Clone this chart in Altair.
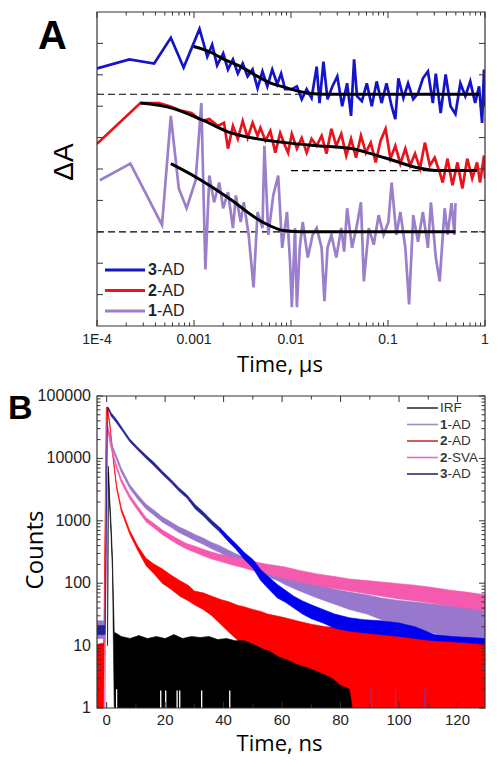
import altair as alt
import pandas as pd

FONT = "Liberation Sans"
TFONT = "Open Sans"

# ======================= Panel A data (time in microseconds) =======================
a3_t = [1.0e-4, 2.16e-4, 3.88e-4, 5.77e-4, 7.82e-4, 1.14e-3, 1.37e-3, 1.54e-3, 1.73e-3, 2.0e-3,
        2.24e-3, 2.52e-3, 2.83e-3, 3.18e-3, 3.57e-3, 4.02e-3, 4.52e-3, 5.08e-3, 5.70e-3, 6.41e-3,
        7.21e-3, 7.91e-3, 8.69e-3, 1.02e-2, 1.15e-2, 1.29e-2, 1.45e-2, 1.63e-2, 1.84e-2, 1.97e-2,
        2.16e-2, 2.38e-2, 2.67e-2, 3.0e-2, 3.37e-2, 3.79e-2, 4.16e-2, 4.47e-2, 4.79e-2, 5.38e-2,
        6.05e-2, 6.80e-2, 7.64e-2, 8.59e-2, 9.66e-2, 0.109, 0.119, 0.128, 0.144, 0.161,
        0.182, 0.204, 0.229, 0.258, 0.290, 0.311, 0.349, 0.393, 0.441, 0.496,
        0.557, 0.627, 0.705, 0.791, 0.869, 0.933, 0.977, 1.0]
a3_y = [8.20, 8.49, 8.36, 9.18, 8.23, 9.46, 8.58, 8.96, 8.30, 8.68,
        8.17, 8.49, 8.04, 8.36, 7.95, 8.17, 7.57, 8.11, 7.63, 8.17,
        7.70, 8.04, 7.54, 7.54, 7.63, 7.22, 7.54, 7.26, 8.26, 7.10,
        8.42, 7.22, 7.63, 7.95, 7.00, 7.73, 6.69, 8.49, 7.32, 7.16,
        7.73, 7.00, 7.79, 7.10, 7.73, 7.00, 6.59, 7.89, 7.26, 7.73,
        7.22, 7.41, 7.89, 8.11, 7.10, 8.04, 6.78, 8.01, 7.00, 6.75,
        7.73, 7.32, 7.79, 7.10, 7.63, 6.47, 8.17, 7.00]

a2_t = [1.0e-4, 2.80e-4, 4.36e-4, 5.64e-4, 7.47e-4, 9.44e-4, 1.19e-3, 1.44e-3, 1.77e-3, 2.04e-3,
        2.24e-3, 2.52e-3, 2.83e-3, 3.18e-3, 3.57e-3, 4.02e-3, 4.52e-3, 4.84e-3, 5.45e-3, 6.12e-3,
        6.89e-3, 7.73e-3, 8.69e-3, 9.33e-3, 1.02e-2, 1.15e-2, 1.29e-2, 1.45e-2, 1.63e-2, 1.84e-2,
        2.07e-2, 2.32e-2, 2.61e-2, 2.93e-2, 3.30e-2, 3.71e-2, 4.16e-2, 4.68e-2, 5.26e-2, 5.92e-2,
        6.64e-2, 7.47e-2, 8.39e-2, 9.44e-2, 0.106, 0.119, 0.134, 0.151, 0.169, 0.190,
        0.214, 0.240, 0.270, 0.303, 0.341, 0.366, 0.411, 0.462, 0.520, 0.584,
        0.656, 0.738, 0.829, 0.889, 0.977, 1.0]
a2_y = [5.80, 7.10, 7.10, 7.00, 6.85, 6.78, 6.53, 6.59, 6.37, 6.47,
        5.65, 6.37, 5.96, 6.53, 5.99, 6.47, 6.06, 6.31, 5.90, 6.21,
        5.52, 6.15, 5.74, 5.52, 6.12, 5.65, 5.99, 5.52, 5.96, 5.74,
        6.06, 5.49, 6.28, 5.74, 6.12, 5.43, 5.96, 5.36, 6.06, 5.52,
        5.84, 5.21, 5.90, 6.28, 5.33, 5.74, 5.17, 5.65, 5.11, 5.49,
        5.02, 5.84, 5.11, 5.36, 4.89, 4.57, 5.33, 4.48, 5.21, 4.38,
        5.33, 4.70, 5.21, 4.57, 5.43, 4.70]

a1_t = [1.07e-4, 2.21e-4, 4.68e-4, 5.77e-4, 6.97e-4, 8.39e-4, 1.04e-3, 1.19e-3, 1.31e-3, 1.44e-3,
        1.61e-3, 1.82e-3, 2.0e-3, 2.24e-3, 2.52e-3, 2.70e-3, 3.03e-3, 3.26e-3, 3.66e-3, 4.11e-3,
        4.52e-3, 5.08e-3, 5.32e-3, 5.84e-3, 6.56e-3, 7.38e-3, 8.11e-3, 9.10e-3, 9.77e-3, 1.02e-2,
        1.10e-2, 1.15e-2, 1.23e-2, 1.32e-2, 1.49e-2, 1.67e-2, 1.84e-2, 2.07e-2, 2.21e-2, 2.38e-2,
        2.61e-2, 2.93e-2, 3.30e-2, 3.53e-2, 3.79e-2, 4.26e-2, 4.79e-2, 5.26e-2, 5.64e-2, 6.34e-2,
        7.13e-2, 8.01e-2, 9.0e-2, 0.101, 0.109, 0.122, 0.134, 0.151, 0.165, 0.182,
        0.204, 0.229, 0.258, 0.277, 0.311, 0.341, 0.384, 0.411, 0.452, 0.484, 0.496]
a1_y = [4.64, 5.17, 3.22, 6.69, 4.38, 3.75, 4.64, 7.10, 1.80, 4.79,
        3.94, 4.57, 3.75, 4.26, 3.12, 4.16, 3.31, 3.94, 2.90, 1.23,
        3.63, 3.12, 5.74, 2.90, 4.16, 4.79, 2.49, 3.63, 2.05, 0.60,
        3.12, 0.60, 2.49, 3.31, 2.18, 2.90, 3.12, 2.49, 0.79, 2.49,
        2.90, 2.18, 3.12, 2.37, 3.75, 2.49, 3.22, 3.94, 1.42, 3.12,
        2.59, 3.53, 2.90, 3.31, 4.57, 2.90, 3.63, 2.49, 0.69, 3.53,
        2.68, 3.63, 2.49, 3.94, 2.18, 1.42, 3.75, 2.90, 3.91, 2.90, 3.91]

# fitted curves
f3_t = [9.9e-4, 1.51e-3, 2.04e-3, 3.03e-3, 4.52e-3, 6.27e-3, 8.69e-3, 1.18e-2, 1.56e-2, 2.21e-2, 0.869]
f3_y = [8.90, 8.71, 8.49, 8.26, 7.95, 7.73, 7.60, 7.48, 7.41, 7.38, 7.38]
f2_t = [2.80e-4, 5.91e-4, 1.28e-3, 2.40e-3, 4.52e-3, 8.69e-3, 1.88e-2, 4.16e-2, 6.64e-2, 0.114, 0.195, 0.341, 0.829]
f2_y = [7.10, 6.94, 6.53, 6.15, 5.96, 5.84, 5.74, 5.65, 5.49, 5.27, 5.05, 4.95, 4.95]
f1_t = [5.77e-4, 1.06e-3, 2.29e-3, 5.08e-3, 8.69e-3, 1.29e-2, 0.496]
f1_y = [5.17, 4.73, 4.07, 3.31, 3.03, 3.00, 3.00]

# dashed baselines
a_base_x1 = [1e-4, 0.01, 1e-4]
a_base_x2 = [1.0, 0.83, 1.0]
a_base_y = [7.38, 4.95, 3.00]

a_xlab_v = [1e-4, 1e-3, 1e-2, 1e-1, 1]
a_xlab_s = ["1E-4", "0.001", "0.01", "0.1", "1"]
a_leg_num = ["3", "2", "1"]

# ======================= Panel B data (time in ns, counts) =======================
r_t = [-3.3, -1.0, -0.1, 0.3, 1.1, 2.2, 3.4, 5.0, 7.9, 10.7, 13.5, 16, 19, 22, 25, 28, 30, 33, 36, 39, 42,
       45, 47, 50, 53, 55, 58, 61, 65, 70, 75, 80, 85, 90, 95, 100, 105, 110, 115, 120, 125, 129.4]
r_lo = [1, 1, 50000, 58000, 32000, 9800, 3300, 1420, 610, 330, 190, 145, 100, 80, 62, 52, 45, 38, 30, 22, 16,
        12, 9, 7.5, 5.5, 4, 2.5, 1, 1, 1, 1, 1, 1, 1, 1, 1, 1, 1, 1, 1, 1, 1]
r_hi = [10.5, 11, 66000, 66000, 37000, 11000, 3700, 1600, 700, 390, 250, 205, 170, 135, 110, 92, 75, 70, 62, 55, 50,
        44, 42, 38, 35, 32, 30, 28, 25, 22, 20, 19.5, 18.5, 17.5, 17, 16, 14.5, 13.5, 12.5, 11.5, 11, 10.5]

p_t = [-3.3, -0.6, 0.0, 0.3, 1.2, 2.2, 3.4, 5.0, 7.9, 10.7, 13.5, 16, 19.1, 22, 24.7, 27.5, 30.3, 33, 35.9, 38.7,
       41.5, 44, 47.1, 50, 52.7, 55.5, 58.4, 61, 66, 72, 78, 83, 89, 94, 100, 105.5, 111, 117, 123, 129.4]
p_lo = [13, 13, 24000, 29000, 20000, 13000, 9500, 6000, 3300, 2200, 1550, 1250, 950, 790, 650, 560, 480, 420, 355, 310,
        260, 225, 190, 165, 145, 125, 110, 95, 75, 58, 46, 38, 32, 26, 22, 19, 16, 14, 13, 12]
p_hi = [25, 25, 33000, 34000, 23000, 15000, 11000, 7000, 3800, 2600, 1850, 1500, 1150, 960, 800, 700, 600, 530, 450, 400,
        340, 300, 255, 225, 200, 180, 160, 140, 118, 95, 80, 72, 65, 58, 53, 50, 47, 44, 42, 40]

k_t = [-0.6, 0.0, 0.4, 1.2, 2.2, 3.4, 5.0, 7.9, 10.7, 13.5, 16, 19.1, 22, 24.7, 27.5, 30.3, 33, 35.9, 38.7, 41.5,
       44, 47.1, 50, 52.7, 55.5, 58.4, 61, 66, 72, 78, 83, 89, 94, 100, 105.5, 111, 117, 123, 129.4]
k_lo = [1, 26000, 27000, 17000, 10500, 6800, 4100, 2250, 1450, 960, 780, 600, 490, 410, 350, 310, 275, 245, 225, 205,
        190, 175, 160, 150, 140, 128, 118, 105, 92, 82, 75, 68, 62, 56, 52, 48, 44, 40, 36]
k_hi = [1.2, 31000, 31000, 20000, 12000, 7800, 4700, 2600, 1700, 1120, 920, 710, 590, 500, 430, 390, 350, 315, 290, 270,
        255, 240, 225, 210, 200, 190, 182, 160, 141, 128, 117, 110, 105, 98, 93, 86, 78, 72, 65]

b_t = [-3.3, -0.5, 0.3, 0.6, 1.5, 3.4, 5.5, 7.9, 10.7, 13.5, 16, 19.1, 22, 24.7, 27.5, 30.3, 33, 35.9, 38.7, 41.5,
       44, 47.1, 50, 52.7, 55.5, 58.4, 61, 64, 67, 70, 74, 78, 83, 88, 94, 100, 105.5, 108, 112, 118, 124, 129.4]
b_lo = [15, 15, 55000, 60000, 48000, 37000, 27000, 18500, 13500, 10000, 7800, 5500, 4100, 3000, 2300, 1550, 1200, 870, 660, 470,
        360, 240, 175, 110, 80, 58, 50, 40, 32, 27, 23, 19, 17, 16, 15, 14, 13, 12.5, 12, 11.5, 11, 10.5]
b_hi = [21, 21, 66000, 66000, 54000, 42000, 30000, 20500, 15000, 11200, 8800, 6200, 4600, 3400, 2600, 1800, 1400, 1020, 780, 570,
        440, 310, 240, 165, 125, 95, 78, 62, 52, 45, 38, 32, 28, 26, 25, 23, 20, 18, 15, 14, 13.5, 13]

irf_t = [0.3, 0.6, 1.0, 1.5, 2.0, 2.3, 2.6, 3.0, 5, 8, 11, 14, 17, 20, 23, 26, 29, 32, 35, 38, 41, 44, 47,
         50, 53, 56, 59, 62, 65, 68, 71, 74, 77, 80, 83, 84]
irf_lo = [10, 6000, 1800, 600, 150, 12, 1, 1, 1, 1, 1, 1, 1, 1, 1, 1, 1, 1, 1, 1, 1, 1, 1,
          1, 1, 1, 1, 1, 1, 1, 1, 1, 1, 1, 1, 1]
irf_hi = [14, 7500, 2500, 900, 250, 60, 16, 16, 14, 13, 14.5, 13, 14, 13, 15, 13, 14, 13.5, 14, 12.5, 13, 12, 12,
          10.5, 9, 8, 6.5, 5.8, 5, 4.5, 4, 3.5, 3, 2.3, 2, 1]

gap_t = [3.4, 18.5, 20.2, 24.1, 25.0, 32.5, 42.1]       # empty (zero-count) channels in IRF
gap_top = [2.0, 1.9, 1.9, 1.9, 1.9, 1.9, 1.9]
spike_t = [90.5, 98.8, 108.9]                            # low-count channels of 3-AD
spike_top = [2.2, 2.0, 2.0]

b_ylab_v = [1, 10, 100, 1000, 10000, 100000]
b_ylab_s = ["1", "10", "100", "1000", "10000", "100000"]
b_xlab_v = [0, 20, 40, 60, 80, 100, 120]
b_xlab_s = ["0", "20", "40", "60", "80", "100", "120"]
b_leg_num = ["", "1", "2", "2", "3"]
b_leg_rest = ["IRF", "-AD", "-AD", "-SVA", "-AD"]

# ======================= layout (pixels inside one shared plot area) =======================
W = 388
A_TOP, A_BOT = 0, 314
B_TOP, B_BOT = 384, 696
xa = alt.Scale(type="log", domain=[1e-4, 1], range=[0, W])
ya = alt.Scale(domain=[0, 10], range=[A_BOT, A_TOP])
xb = alt.Scale(domain=[-3.3, 129.4], range=[0, W])
yb = alt.Scale(type="log", domain=[1, 100000], range=[B_BOT, B_TOP])
ONE = pd.DataFrame({"k": [0]})
TICK = "#333333"


def text(t, x, y, size, font=FONT, weight="normal", align="left", baseline="middle", angle=0, color="#111111"):
    kw = dict(text=t, fontSize=size, font=font, fontWeight=weight, align=align, baseline=baseline, color=color)
    if angle:
        kw["angle"] = angle
    return alt.Chart(ONE).mark_text(**kw).encode(x=alt.value(x), y=alt.value(y))


def seg(x1, x2, y, color, w):
    return alt.Chart(ONE).mark_rule(color=color, strokeWidth=w).encode(
        x=alt.value(x1), x2=alt.value(x2), y=alt.value(y))


def frame(top, bot):
    return alt.Chart(ONE).mark_rect(fillOpacity=0, stroke="#333333", strokeWidth=1.2).encode(
        x=alt.value(0), x2=alt.value(W), y=alt.value(top), y2=alt.value(bot))


def xticks(vals, scale, top, bot, L):
    df = pd.DataFrame({"v": vals})
    base = alt.Chart(df).mark_rule(color=TICK, strokeWidth=1)
    enc = alt.X("v:Q", scale=scale, axis=None)
    return [base.encode(x=enc, y=alt.value(top), y2=alt.value(top + L)),
            base.encode(x=enc, y=alt.value(bot), y2=alt.value(bot - L))]


def yticks(vals, scale, L):
    df = pd.DataFrame({"v": vals})
    base = alt.Chart(df).mark_rule(color=TICK, strokeWidth=1)
    enc = alt.Y("v:Q", scale=scale, axis=None)
    return [base.encode(y=enc, x=alt.value(0), x2=alt.value(L)),
            base.encode(y=enc, x=alt.value(W), x2=alt.value(W - L))]


def xlabels(vals, labs, scale, ypos, size):
    df = pd.DataFrame({"v": vals, "s": labs})
    return alt.Chart(df).mark_text(font=FONT, fontSize=size, color="#222222", baseline="middle", align="center").encode(
        x=alt.X("v:Q", scale=scale, axis=None), y=alt.value(ypos), text="s:N")


def ylabels(vals, labs, scale, xpos, size):
    df = pd.DataFrame({"v": vals, "s": labs})
    return alt.Chart(df).mark_text(font=FONT, fontSize=size, color="#222222", baseline="middle", align="right").encode(
        y=alt.Y("v:Q", scale=scale, axis=None), x=alt.value(xpos), text="s:N")


def lineA(t, y, color, w, interp="linear"):
    df = pd.DataFrame({"t": t, "y": y})
    return alt.Chart(df).mark_line(color=color, strokeWidth=w, interpolate=interp, clip=True).encode(
        x=alt.X("t:Q", scale=xa, axis=None), y=alt.Y("y:Q", scale=ya, axis=None))


def band_df(df, color, sw=0.6):
    return alt.Chart(df).mark_area(color=color, stroke=color, strokeWidth=sw, clip=True).encode(
        x=alt.X("t:Q", scale=xb, axis=None), y=alt.Y("lo:Q", scale=yb, axis=None), y2="hi:Q")


def band(t, lo, hi, color, sw=0.6):
    return band_df(pd.DataFrame({"t": t, "lo": lo, "hi": hi}), color, sw)


# ======================= Panel A =======================
base_df = pd.DataFrame({"x1": a_base_x1, "x2": a_base_x2, "y": a_base_y})
baselines = alt.Chart(base_df).mark_rule(color="black", strokeWidth=1.2, strokeDash=[7, 4]).encode(
    x=alt.X("x1:Q", scale=xa, axis=None), x2="x2:Q", y=alt.Y("y:Q", scale=ya, axis=None))

a_xmaj = [1e-4, 1e-3, 1e-2, 1e-1, 1]
a_xmin = [m * 10.0 ** k for k in range(-4, 0) for m in range(2, 10)]
a_ymaj = list(range(1, 10))

L = [baselines,
     lineA(a3_t, a3_y, "#1414c8", 2.7),
     lineA(a2_t, a2_y, "#e8141c", 2.7),
     lineA(a1_t, a1_y, "#9b7fcb", 2.7),
     lineA(f3_t, f3_y, "black", 3, "monotone"),
     lineA(f2_t, f2_y, "black", 3, "monotone"),
     lineA(f1_t, f1_y, "black", 3, "monotone"),
     frame(A_TOP, A_BOT)]
L += xticks(a_xmaj, xa, A_TOP, A_BOT, 6) + xticks(a_xmin, xa, A_TOP, A_BOT, 3.5) + yticks(a_ymaj, ya, 6)
L.append(xlabels(a_xlab_v, a_xlab_s, xa, A_BOT + 14, 14))
a_cols = ["#1414c8", "#e8141c", "#9b7fcb"]
for i, (num, col) in enumerate(zip(a_leg_num, a_cols)):
    yy = A_TOP + 258 + 20.5 * i
    L.append(seg(8, 48, yy, col, 3.2))
    L.append(text(num, 51, yy, 16, weight="bold", color="#222222"))
    L.append(text("-AD", 60, yy, 16, color="#222222"))
L.append(text("A", -59, A_TOP + 37, 40, weight="bold", baseline="alphabetic", color="black"))
L.append(text("ΔA", -32, A_TOP + 150, 28, align="center", angle=270, color="black"))
L.append(text("Time, μs", W / 2 - 11, A_BOT + 46, 22, font=TFONT, align="center", baseline="alphabetic", color="black"))

# ======================= Panel B =======================
blue_df = pd.DataFrame({"t": b_t, "lo": b_lo, "hi": b_hi})
blue_early = blue_df[blue_df.t <= 38.7]
blue_late = blue_df[blue_df.t >= 38.7]
irf_df = pd.DataFrame({"t": irf_t, "lo": irf_lo, "hi": irf_hi})

gap_df = pd.DataFrame({"t": gap_t, "top": gap_top})
gaps = alt.Chart(gap_df).mark_rule(color="white", strokeWidth=1.3, clip=True).encode(
    x=alt.X("t:Q", scale=xb, axis=None), y=alt.Y("top:Q", scale=yb, axis=None), y2=alt.datum(1))
spk_df = pd.DataFrame({"t": spike_t, "top": spike_top})
spikes = alt.Chart(spk_df).mark_rule(color="#6a3cc8", strokeWidth=1.2, clip=True).encode(
    x=alt.X("t:Q", scale=xb, axis=None), y=alt.Y("top:Q", scale=yb, axis=None), y2=alt.datum(1))

b_xmaj = [0, 20, 40, 60, 80, 100, 120]
b_xmin = [10, 30, 50, 70, 90, 110]
b_ymaj = [1, 10, 100, 1000, 10000, 100000]
b_ymin = [m * 10 ** k for k in range(0, 5) for m in range(2, 10)]

L += [band(r_t, r_lo, r_hi, "#ff0000"),
      band_df(irf_df, "#000000"),
      gaps,
      band(p_t, p_lo, p_hi, "#9878cc"),
      band(k_t, k_lo, k_hi, "#f55aae"),
      band_df(blue_early, "#24249a"),
      band_df(blue_late, "#0000f0"),
      spikes,
      frame(B_TOP, B_BOT)]
L += xticks(b_xmaj, xb, B_TOP, B_BOT, 6) + xticks(b_xmin, xb, B_TOP, B_BOT, 3.5)
L += yticks(b_ymaj, yb, 6) + yticks(b_ymin, yb, 3.5)
L.append(xlabels(b_xlab_v, b_xlab_s, xb, B_BOT + 12, 15))
L.append(ylabels(b_ylab_v, b_ylab_s, yb, -6, 16))
b_cols = ["#333333", "#a08cc0", "#c83232", "#e070c0", "#282878"]
for i, (num, rest, col) in enumerate(zip(b_leg_num, b_leg_rest, b_cols)):
    yy = B_TOP + 12 + 16.5 * i
    L.append(seg(W - 78, W - 47, yy, col, 1.6))
    if num:
        L.append(text(num, W - 45, yy, 13.5, weight="bold", color="#333333"))
        L.append(text(rest, W - 37.5, yy, 13.5, color="#333333"))
    else:
        L.append(text(rest, W - 45, yy, 13.5, color="#333333"))
L.append(text("B", -89, B_TOP + 23, 34, weight="bold", baseline="alphabetic", color="black"))
L.append(text("Counts", -61, B_TOP + 154, 24, font=TFONT, align="center", angle=270, color="black"))
L.append(text("Time, ns", W / 2 - 11.5, B_BOT + 43, 22, font=TFONT, align="center", baseline="alphabetic", color="black"))

chart = alt.layer(*L).resolve_scale(x="independent", y="independent").properties(
    width=W, height=B_BOT,
    padding={"left": 0, "top": 3, "right": 0, "bottom": 2.5}
).configure_view(strokeWidth=0)

chart.save("out.html", embed_options={"renderer": "svg", "actions": False})
